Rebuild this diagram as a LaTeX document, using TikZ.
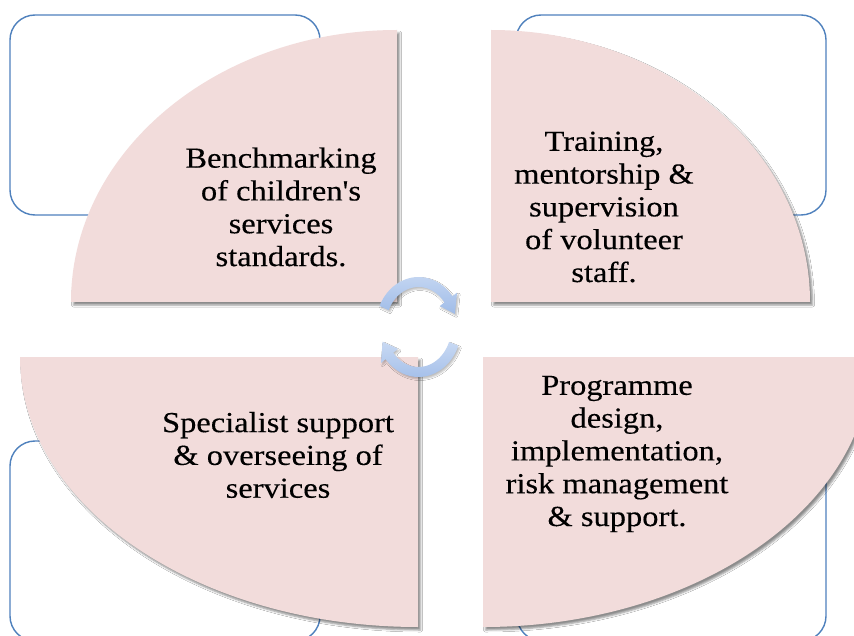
\documentclass[tikz,border=0pt]{standalone}
\usepackage{fontspec}
\setmainfont{Liberation Serif}[FakeStretch=1.12, FakeBold=0.3, Ligatures=TeXOff]
\usetikzlibrary{shadows.blur}
\definecolor{piefill}{RGB}{242,220,219}
\definecolor{rectblue}{RGB}{79,129,189}
\definecolor{arrowtop}{RGB}{200,217,243}
\definecolor{arrowbot}{RGB}{160,188,232}
\tikzset{
  backbox/.style={draw=rectblue, line width=1.4pt, rounded corners=25pt},
  pie/.style={fill=piefill, blur shadow={shadow xshift=2.5pt, shadow yshift=-3pt, shadow blur radius=2pt, shadow opacity=45}},
  pietext/.style={align=center, inner sep=0pt, font=\fontsize{29}{32.8}\selectfont, text=black},
  cyclearrow/.style={top color=arrowtop, bottom color=arrowbot, draw=none,
    blur shadow={shadow xshift=1.5pt, shadow yshift=-2pt, shadow blur radius=1.5pt, shadow opacity=25}}
}
\begin{document}
\begin{tikzpicture}[x=1pt,y=1pt]
\useasboundingbox (0,0) rectangle (854,-636);
\clip (0,0) rectangle (854,-636);
\fill[white] (0,0) rectangle (854,-636);
% background boxes
\draw[backbox] (10,-15) rectangle (320,-215);
\draw[backbox] (516,-15) rectangle (826,-215);
\draw[backbox] (10,-441) rectangle (320,-641);
\draw[backbox] (517,-441) rectangle (826,-641);
% pies
\path[pie] (397,-302) -- (71,-302) arc[start angle=180, end angle=90, x radius=326pt, y radius=272pt] -- cycle;
\path[pie] (491,-302) -- (491,-30) arc[start angle=90, end angle=0, x radius=319pt, y radius=272pt] -- cycle;
\path[pie] (418,-357) -- (20,-357) arc[start angle=180, end angle=270, x radius=398pt, y radius=270pt] -- cycle;
\path[pie] (483,-357) -- (483,-627) arc[start angle=270, end angle=360, x radius=388pt, y radius=270pt] -- cycle;
% texts
\node[pietext] (bench) at (281,-207) {Benchmarking\\of children's\\services\\standards.};
\node[pietext] (train) at (604,-207) {Training,\\mentorship \&\\supervision\\of volunteer\\staff.};
\node[pietext] (spec) at (278,-455) {Specialist support\\\& overseeing of\\services};
\node[pietext] (prog) at (617,-454) {Programme\\design,\\implementation,\\risk management\\\& support.};
% central cycle arrows
\coordinate (cyc) at (418.5,-327);
\begin{scope}[shift={(cyc)}]
\path[cyclearrow] (155:43pt and 50pt) arc[start angle=155, end angle=38, x radius=43pt, y radius=50pt]
  -- (38:49pt and 56pt) -- (17:38pt and 45pt) -- (38:27pt and 34pt) -- (38:33pt and 40pt)
  arc[start angle=38, end angle=155, x radius=33pt, y radius=40pt] -- cycle;
\path[cyclearrow] (-22:43pt and 50pt) arc[start angle=-22, end angle=-140, x radius=43pt, y radius=50pt]
  -- (-140:49pt and 56pt) -- (-161:38pt and 45pt) -- (-140:27pt and 34pt) -- (-140:33pt and 40pt)
  arc[start angle=-140, end angle=-22, x radius=33pt, y radius=40pt] -- cycle;
\end{scope}
\end{tikzpicture}
\end{document}
